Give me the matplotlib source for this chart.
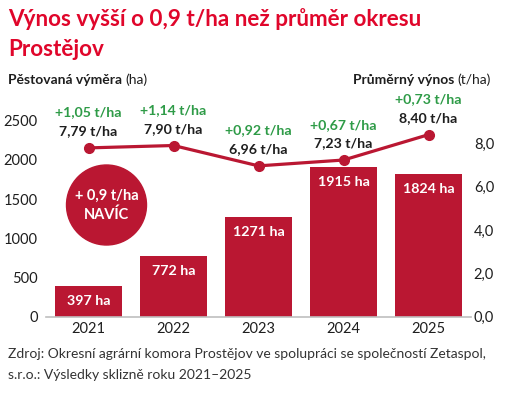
import matplotlib
matplotlib.use("Agg")
import matplotlib.pyplot as plt
from matplotlib.patches import Ellipse
from matplotlib.ticker import FuncFormatter

years = ["2021", "2022", "2023", "2024", "2025"]
area_ha = [397, 772, 1271, 1915, 1824]
yield_t = [7.79, 7.90, 6.96, 7.23, 8.40]
diff_t = [1.05, 1.14, 0.92, 0.67, 0.73]
left_ticks = [0, 500, 1000, 1500, 2000, 2500]
right_ticks = [0, 2, 4, 6, 8]

RED = "#BA1732"
TITLE_RED = "#E0062B"
GREEN = "#2E9B47"
DARK = "#1E1E1E"

plt.rcParams['font.family'] = ['Lato', 'DejaVu Sans']

W, H = 525, 394
fig = plt.figure(figsize=(W / 100, H / 100), dpi=100)

def fx(px):
    return px / W

def fy(py):
    return 1 - py / H

ax_left, ax_right, ax_top, ax_bot = 46, 471, 100, 316.7
ax = fig.add_axes([fx(ax_left), fy(ax_bot), fx(ax_right - ax_left), (ax_bot - ax_top) / H])
ax2 = ax.twinx()

x = list(range(len(years)))
ax.bar(x, area_ha, width=0.78, color=RED, zorder=2)
ax.set_xlim(-0.5, 4.5)
ax.set_ylim(0, 2764)
ax.set_yticks(left_ticks)
ax.set_xticks(x)
ax.set_xticklabels(years)
for s in ["top", "left", "right"]:
    ax.spines[s].set_visible(False)
ax.spines["bottom"].set_color("#BFBFBF")
ax.spines["bottom"].set_linewidth(1.2)
ax.tick_params(axis="both", length=0, labelsize=10.5, colors=DARK)
ax.tick_params(axis="y", pad=6)
ax.tick_params(axis="x", pad=4)

for xi, v in zip(x, area_ha):
    ax.annotate(f"{v} ha", (xi, v), xytext=(0, -11), textcoords="offset points",
                ha="center", va="center", color="white", fontsize=10.3, fontweight="bold", zorder=3)

ax2.plot(x, yield_t, color=RED, lw=2.3, marker="o", ms=7, zorder=3)
ax2.set_ylim(0, 10)
ax2.set_yticks(right_ticks)
ax2.yaxis.set_major_formatter(FuncFormatter(lambda v, p: f"{v:.1f}".replace(".", ",")))
for s in ["top", "left", "right", "bottom"]:
    ax2.spines[s].set_visible(False)
ax2.tick_params(axis="y", length=0, labelsize=10.5, colors=DARK, pad=2)

for xi, v, d in zip(x, yield_t, diff_t):
    ax2.annotate(f"{v:.2f} t/ha".replace(".", ","), (xi, v), xytext=(0, 12), textcoords="offset points",
                 ha="center", va="center", color=DARK, fontsize=10.2, fontweight="bold")
    ax2.annotate(f"+{d:.2f} t/ha".replace(".", ","), (xi, v), xytext=(0, 25.5), textcoords="offset points",
                 ha="center", va="center", color=GREEN, fontsize=10.2, fontweight="bold")

# circle badge
cx, cy, r = 106.5, 205, 40
fig.patches.append(Ellipse((fx(cx), fy(cy)), 2 * r / W, 2 * r / H, transform=fig.transFigure,
                           color=RED, zorder=5))
fig.text(fx(cx), fy(cy - 9), "+ 0,9 t/ha", ha="center", va="center", color="white",
         fontsize=10.5, fontweight="bold", zorder=6)
fig.text(fx(cx), fy(cy + 10), "NAVÍC", ha="center", va="center", color="white",
         fontsize=10.5, fontweight="bold", zorder=6)

# titles
fig.text(fx(8), fy(19), "Výnos vyšší o 0,9 t/ha než průměr okresu", ha="left", va="center",
         color=TITLE_RED, fontsize=16.2, fontweight="bold")
fig.text(fx(8), fy(49), "Prostějov", ha="left", va="center",
         color=TITLE_RED, fontsize=16.2, fontweight="bold")

t1 = fig.text(fx(8), fy(80), "Pěstovaná výměra", ha="left", va="center", color=DARK,
              fontsize=10, fontweight="bold")
fig.canvas.draw()
bb = t1.get_window_extent()
fig.text(bb.x1 / W + fx(3), fy(80), "(ha)", ha="left", va="center", color=DARK, fontsize=10)

t3 = fig.text(fx(491), fy(80), "(t/ha)", ha="right", va="center", color=DARK, fontsize=10)
fig.canvas.draw()
bb3 = t3.get_window_extent()
fig.text(bb3.x0 / W - fx(3), fy(80), "Průměrný výnos", ha="right", va="center", color=DARK,
         fontsize=10, fontweight="bold")

fig.text(fx(8), fy(354), "Zdroj: Okresní agrární komora Prostějov ve spolupráci se společností Zetaspol,",
         ha="left", va="center", color="#333333", fontsize=10)
fig.text(fx(8), fy(375), "s.r.o.: Výsledky sklizně roku 2021–2025",
         ha="left", va="center", color="#333333", fontsize=10)

fig.savefig("out.png", dpi=100)
